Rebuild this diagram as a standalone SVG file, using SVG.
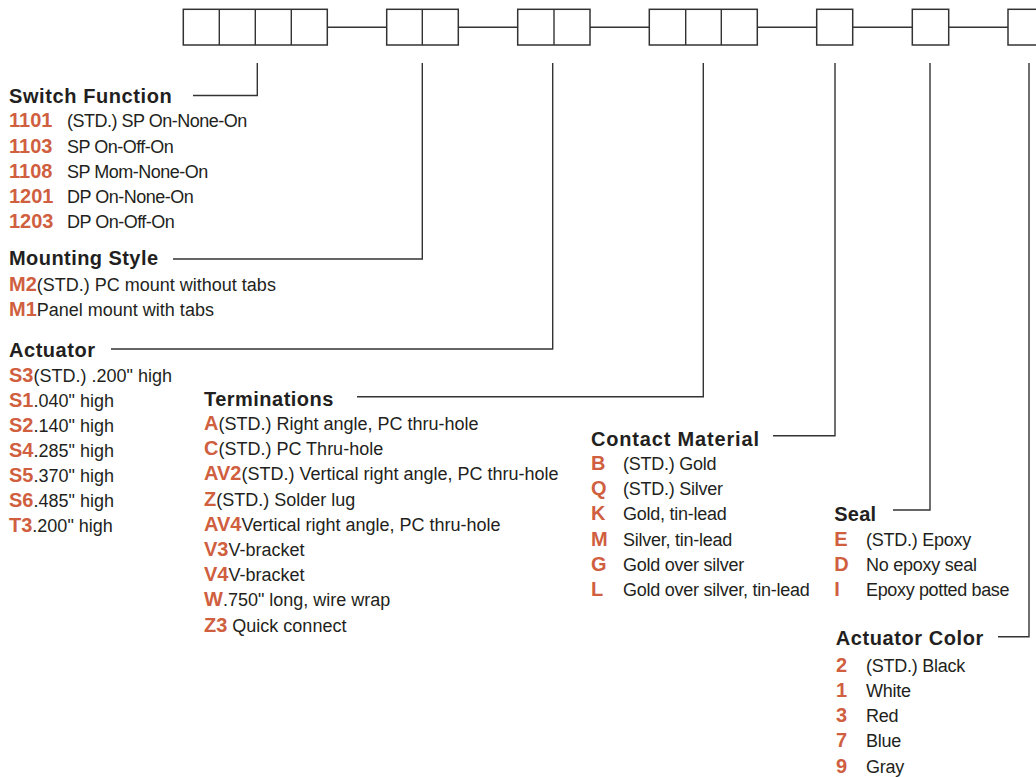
<svg xmlns="http://www.w3.org/2000/svg" width="1036" height="777" viewBox="0 0 1036 777">
<style>
text{font-family:"Liberation Sans",Arial,sans-serif;fill:#231f20}
.h{font-weight:bold;font-size:20px}
.k{font-weight:bold;font-size:20px;fill:#cf5f3f}
.t{font-size:18px}
.sw{letter-spacing:-0.5px}
.cm{letter-spacing:-0.25px}
.box{fill:#fff;stroke:#333;stroke-width:1.5}
.ln{fill:none;stroke:#333;stroke-width:1.4}
</style>
<rect width="1036" height="777" fill="#fff"/>
<g id="connectors">
<path class="ln" d="M327 27.3H387M458 27.3H518M590 27.3H649M757 27.3H817M853 27.3H912M949 27.3H1008"/>
<path class="ln" d="M193 95.5H257.3V63"/>
<path class="ln" d="M173 259H422.3V63"/>
<path class="ln" d="M111 349H552.7V63"/>
<path class="ln" d="M357 396.7H703.3V63"/>
<path class="ln" d="M773 435.7H835V63"/>
<path class="ln" d="M893 510H930V63"/>
<path class="ln" d="M998 636.7H1029V63"/>
</g>
<g id="box-switch">
<rect class="box" x="183.3" y="9.3" width="144" height="35.7"/>
<path class="ln" d="M219.3 9.3V45M255.3 9.3V45M291.3 9.3V45"/>
</g>
<g id="box-mounting">
<rect class="box" x="386.7" y="9.3" width="71.6" height="35.7"/>
<path class="ln" d="M422.3 9.3V45"/>
</g>
<g id="box-actuator">
<rect class="box" x="517.7" y="9.3" width="72.3" height="35.7"/>
<path class="ln" d="M554 9.3V45"/>
</g>
<g id="box-terminations">
<rect class="box" x="649.3" y="9.3" width="108" height="35.7"/>
<path class="ln" d="M685.7 9.3V45M721.3 9.3V45"/>
</g>
<g id="box-contact">
<rect class="box" x="816.7" y="9.3" width="36" height="35.7"/>
</g>
<g id="box-seal">
<rect class="box" x="912.3" y="9.3" width="36.4" height="35.7"/>
</g>
<g id="box-color">
<rect class="box" x="1008" y="9.3" width="36" height="35.7"/>
</g>
<g id="switch-function">
<text class="h" x="9" y="102.7" textLength="162.7" lengthAdjust="spacing">Switch Function</text>
<text class="k" x="9" y="127.3">1101</text><text class="t sw" x="67" y="127.3">(STD.) SP On-None-On</text>
<text class="k" x="9" y="152.5">1103</text><text class="t sw" x="67" y="152.5">SP On-Off-On</text>
<text class="k" x="9" y="177.6">1108</text><text class="t sw" x="67" y="177.6">SP Mom-None-On</text>
<text class="k" x="9" y="202.8">1201</text><text class="t sw" x="67" y="202.8">DP On-None-On</text>
<text class="k" x="9" y="227.8">1203</text><text class="t sw" x="67" y="227.8">DP On-Off-On</text>
</g>
<g id="mounting-style">
<text class="h" x="9" y="265" textLength="149" lengthAdjust="spacing">Mounting Style</text>
<text class="t" x="9" y="290.7"><tspan class="k">M2</tspan>(STD.) PC mount without tabs</text>
<text class="t" x="9" y="315.8"><tspan class="k">M1</tspan>Panel mount with tabs</text>
</g>
<g id="actuator">
<text class="h" x="9" y="356.7" textLength="86" lengthAdjust="spacing">Actuator</text>
<text class="t" x="9" y="381.7"><tspan class="k">S3</tspan>(STD.) .200" high</text>
<text class="t" x="9" y="406.7"><tspan class="k">S1</tspan>.040" high</text>
<text class="t" x="9" y="431.7"><tspan class="k">S2</tspan>.140" high</text>
<text class="t" x="9" y="456.7"><tspan class="k">S4</tspan>.285" high</text>
<text class="t" x="9" y="481.7"><tspan class="k">S5</tspan>.370" high</text>
<text class="t" x="9" y="506.7"><tspan class="k">S6</tspan>.485" high</text>
<text class="t" x="9" y="531.7"><tspan class="k">T3</tspan>.200" high</text>
</g>
<g id="terminations">
<text class="h" x="204" y="406" textLength="129.3" lengthAdjust="spacing">Terminations</text>
<text class="t" x="204" y="430"><tspan class="k">A</tspan>(STD.) Right angle, PC thru-hole</text>
<text class="t" x="204" y="455.2"><tspan class="k">C</tspan>(STD.) PC Thru-hole</text>
<text class="t" x="204" y="480.4"><tspan class="k">AV2</tspan>(STD.) Vertical right angle, PC thru-hole</text>
<text class="t" x="204" y="505.6"><tspan class="k">Z</tspan>(STD.) Solder lug</text>
<text class="t" x="204" y="530.8"><tspan class="k">AV4</tspan>Vertical right angle, PC thru-hole</text>
<text class="t" x="204" y="556"><tspan class="k">V3</tspan>V-bracket</text>
<text class="t" x="204" y="581.2"><tspan class="k">V4</tspan>V-bracket</text>
<text class="t" x="204" y="606.4"><tspan class="k">W</tspan>.750" long, wire wrap</text>
<text class="t" x="204" y="631.6"><tspan class="k">Z3</tspan> Quick connect</text>
</g>
<g id="contact-material">
<text class="h" x="591" y="446" textLength="168" lengthAdjust="spacing">Contact Material</text>
<text class="k" x="591" y="470">B</text><text class="t cm" x="623" y="470">(STD.) Gold</text>
<text class="k" x="591" y="495.2">Q</text><text class="t cm" x="623" y="495.2">(STD.) Silver</text>
<text class="k" x="591" y="520.4">K</text><text class="t cm" x="623" y="520.4">Gold, tin-lead</text>
<text class="k" x="591" y="545.6">M</text><text class="t cm" x="623" y="545.6">Silver, tin-lead</text>
<text class="k" x="591" y="570.8">G</text><text class="t cm" x="623" y="570.8">Gold over silver</text>
<text class="k" x="591" y="596">L</text><text class="t cm" x="623" y="596">Gold over silver, tin-lead</text>
</g>
<g id="seal">
<text class="h" x="834.3" y="521" textLength="41.7" lengthAdjust="spacing">Seal</text>
<text class="k" x="834.3" y="546">E</text><text class="t cm" x="866" y="546">(STD.) Epoxy</text>
<text class="k" x="834.3" y="571.2">D</text><text class="t cm" x="866" y="571.2">No epoxy seal</text>
<text class="k" x="834.3" y="596.4">I</text><text class="t cm" x="866" y="596.4" style="letter-spacing:-0.35px">Epoxy potted base</text>
</g>
<g id="actuator-color">
<text class="h" x="835.7" y="645" textLength="147.6" lengthAdjust="spacing">Actuator Color</text>
<text class="k" x="836" y="671.7">2</text><text class="t cm" x="866" y="671.7">(STD.) Black</text>
<text class="k" x="836" y="696.9">1</text><text class="t cm" x="866" y="696.9">White</text>
<text class="k" x="836" y="722.1">3</text><text class="t cm" x="866" y="722.1">Red</text>
<text class="k" x="836" y="747.3">7</text><text class="t cm" x="866" y="747.3">Blue</text>
<text class="k" x="836" y="772.5">9</text><text class="t cm" x="866" y="772.5">Gray</text>
</g>
</svg>
